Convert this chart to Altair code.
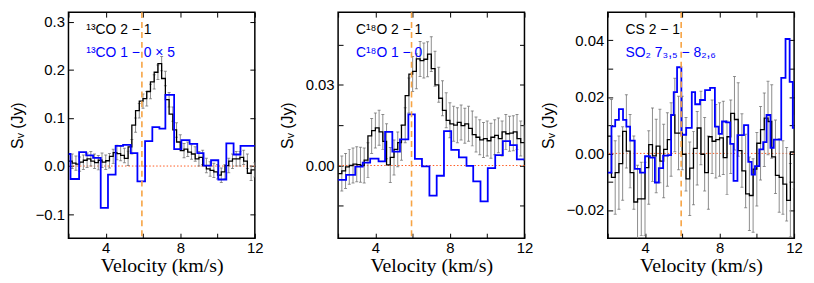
import altair as alt
import pandas as pd

# ---------------- data ----------------
V_MIN, V_MAX = 2.0, 12.0
V_LSR = 5.94          # systemic velocity (dashed orange line)
CHAN = 0.2            # channel width of the black spectra (km/s)
X_TICKS = [2, 4, 6, 8, 10, 12]

# Panel 1: 13CO 2-1 (black) and 13CO 1-0 x 5 (blue)
p1_black = [0.010, 0.006, 0.004, 0.008, 0.012, 0.015, 0.010, 0.007, 0.012, 0.008,
            0.011, 0.020, 0.028, 0.026, 0.022, 0.016, 0.040, 0.085, 0.115, 0.135,
            0.140, 0.155, 0.175, 0.195, 0.213, 0.182, 0.138, 0.108, 0.075, 0.050,
            0.032, 0.035, 0.029, 0.025, 0.015, 0.018, 0.001, -0.006, -0.009, -0.012,
            -0.019, -0.012, 0.001, 0.010, 0.015, 0.015, 0.018, 0.010, -0.015, -0.008]
p1_err = 0.015
p1_blue_edges = [2.00, 2.11, 2.57, 2.95, 3.32, 3.73, 4.12, 4.53, 4.93, 5.34, 5.70, 6.11, 6.50,
                 6.88, 7.20, 7.67, 8.06, 8.50, 8.91, 9.25, 9.65, 10.04, 10.47, 10.86, 11.23]
p1_blue = [0.025, -0.027, 0.029, 0.022, 0.017, -0.087, -0.018, 0.042, 0.044, 0.027, -0.032,
           0.052, 0.081, 0.078, 0.148, 0.035, 0.054, 0.046, 0.027, 0.001, 0.012, -0.028,
           0.047, 0.024, 0.042]
p1_ydom = [-0.15, 0.32]
p1_yticks = [-0.1, 0.0, 0.1, 0.2, 0.3]
p1_ylabeled = [-0.1, 0.0, 0.1, 0.2, 0.3]

# Panel 2: C18O 2-1 (black) and C18O 1-0 (blue)
p2_black = [-0.003, -0.002, -0.0005, 0.0, 0.0005, 0.0003, 0.0, 0.002, 0.011, 0.013,
            0.014, 0.0125, 0.009, 0.0002, 0.003, 0.006, 0.0085, 0.015, 0.026, 0.034,
            0.035, 0.0396, 0.039, 0.0395, 0.0414, 0.036, 0.030, 0.025, 0.0205, 0.0168,
            0.0155, 0.015, 0.016, 0.0148, 0.0155, 0.0138, 0.0115, 0.0105, 0.0095, 0.010,
            0.0092, 0.0105, 0.0112, 0.010, 0.0125, 0.0118, 0.012, 0.0125, 0.010, 0.0085]
p2_err = 0.0065
p2_blue_edges = [2.00, 2.43, 2.92, 3.32, 3.72, 4.17, 4.52, 4.91, 5.32, 5.77, 6.12, 6.50, 6.90,
                 7.29, 7.68, 8.07, 8.48, 8.89, 9.25, 9.64, 10.03, 10.43, 10.84, 11.23, 11.59]
p2_blue = [-0.0053, -0.0035, -0.0004, 0.0011, 0.0026, 0.0015, 0.0125, 0.0052, 0.0097, 0.019,
           0.0025, -0.0003, -0.0112, -0.0038, 0.0128, 0.0058, 0.0030, -0.0001, -0.0059,
           -0.0133, -0.0010, 0.0039, 0.0091, 0.0076, 0.0023]
p2_ydom = [-0.027, 0.057]
p2_yticks = [-0.015, 0.0, 0.015, 0.03, 0.045]
p2_ylabeled = [0.0, 0.03]

# Panel 3: CS 2-1 (black) and SO2 7(3,5)-8(2,6) (blue)
p3_black = [0.0061, -0.0085, -0.0068, -0.0036, 0.0078, 0.0008, -0.0068, -0.0172, -0.0161, -0.0161,
            -0.0050, 0.0031, -0.0009, 0.0026, -0.0027, 0.0014, 0.0049, 0.0136, 0.0072, 0.0072,
            -0.0003, -0.0090, -0.0052, 0.0018, 0.0090, -0.0003, -0.0068, 0.0059, 0.0043, 0.0049,
            0.0055, -0.0015, 0.0059, 0.0142, 0.0120, 0.0010, -0.0062, -0.0143, -0.0149, -0.0056,
            0.0036, 0.0084, 0.0125, 0.0113, -0.0012, -0.0078, -0.0085, -0.0109, -0.0166, 0.0005]
p3_err = 0.013
p3_blue_edges = [2.00, 2.20, 2.40, 2.60, 2.82, 3.00, 3.20, 3.45, 3.73, 4.00, 4.27, 4.53, 4.74,
                 4.97, 5.24, 5.40, 5.54, 5.72, 5.95, 6.21, 6.51, 6.69, 6.95, 7.22, 7.49, 7.75,
                 7.95, 8.13, 8.35, 8.57, 8.75, 8.96, 9.31, 9.54, 9.72, 9.90, 10.13, 10.34,
                 10.52, 10.73, 10.91, 11.31, 11.54, 11.76, 11.93]
p3_blue = [-0.0068, 0.0096, 0.0119, 0.0157, 0.0119, 0.0095, 0.0045, -0.0055, -0.0068, -0.0010,
           -0.0015, -0.0103, -0.0052, -0.0008, -0.0006, 0.0136, 0.0217, 0.0305, 0.0066, 0.0090,
           0.0217, 0.0174, 0.0189, 0.0224, 0.0232, 0.0095, 0.0069, 0.0113, 0.0110, 0.0034,
           -0.0097, 0.0065, 0.0100, -0.0030, -0.0075, -0.0045, 0.0014, 0.0040, 0.0136, 0.0020,
           0.0049, 0.0267, 0.0405, 0.0253, 0.0090]
p3_ydom = [-0.03, 0.05]
p3_yticks = [-0.02, -0.01, 0.0, 0.01, 0.02, 0.03, 0.04]
p3_ylabeled = [-0.02, 0.0, 0.02, 0.04]

labels = [
    ("\u00b9\u00b3CO 2 \u2212 1", "\u00b9\u00b3CO 1 \u2212 0 \u00d7 5"),
    ("C\u00b9\u2078O 2 \u2212 1", "C\u00b9\u2078O 1 \u2212 0"),
    ("CS 2 \u2212 1", "SO\u2082 7\u2083,\u2085 \u2212 8\u2082,\u2086"),
]

# ---------------- styling ----------------
SANS = "Liberation Sans"
SERIF = "Liberation Serif, DejaVu Serif, serif"
W, H = 188, 228
BLACK = "#000000"
BLUE = "#0000ff"
ERR = "#8c8c8c"
ORANGE = "#f7a444"
RED = "#ff5a1f"


def panel(black, err, blue_edges, blue_vals, ydom, yticks, ylabeled, yfmt, lab_black, lab_blue):
    edges = [round(V_MIN + CHAN * i, 4) for i in range(len(black))]
    df_black = pd.DataFrame({"v": edges + [V_MAX], "s": black + [black[-1]]})
    df_blue = pd.DataFrame({"v": blue_edges + [V_MAX], "s": blue_vals + [blue_vals[-1]]})
    right = [round(e + CHAN, 4) for e in edges]
    df_err = pd.DataFrame({"v": right,
                           "lo": [b - err for b in black],
                           "hi": [b + err for b in black]})
    df_caps = pd.DataFrame({"v": right + right,
                            "c": [b - err for b in black] + [b + err for b in black]})

    xs = alt.Scale(domain=[V_MIN, V_MAX], nice=False, zero=False)
    ys = alt.Scale(domain=ydom, nice=False, zero=False)

    cond = " || ".join(f"abs(datum.value - ({t})) < 1e-9" for t in ylabeled)
    y_left = alt.Axis(values=yticks, labelExpr=f"({cond}) ? format(datum.value, '{yfmt}') : ''",
                      title="S\u1d65 (Jy)", orient="left")
    x_bottom = alt.Axis(values=X_TICKS, labelExpr="datum.value % 4 == 0 ? datum.label : ''",
                        format="d", title="Velocity (km/s)", orient="bottom")
    x_top = alt.Axis(values=X_TICKS, labels=False, title=None, orient="top")
    y_right = alt.Axis(values=yticks, labels=False, title=None, orient="right")

    zero = alt.Chart(pd.DataFrame({"z": [0.0]})).mark_rule(
        color=RED, strokeDash=[1.5, 2], strokeWidth=1).encode(
        y=alt.Y("z:Q", scale=ys, axis=None))
    bars = alt.Chart(df_err).mark_rule(color=ERR, strokeWidth=1, clip=True).encode(
        x=alt.X("v:Q", scale=xs, axis=x_top),
        y=alt.Y("lo:Q", scale=ys, axis=y_right),
        y2="hi:Q")
    caps = alt.Chart(df_caps).mark_tick(orient="horizontal", size=3, thickness=1,
                                        color="#666666", clip=True).encode(
        x=alt.X("v:Q", scale=xs, axis=None),
        y=alt.Y("c:Q", scale=ys, axis=None))
    line_black = alt.Chart(df_black).mark_line(
        interpolate="step-after", color=BLACK, strokeWidth=1.3, clip=True).encode(
        x=alt.X("v:Q", scale=xs, axis=x_bottom),
        y=alt.Y("s:Q", scale=ys, axis=y_left))
    line_blue = alt.Chart(df_blue).mark_line(
        interpolate="step-after", color=BLUE, strokeWidth=1.8, clip=True).encode(
        x=alt.X("v:Q", scale=xs, axis=None),
        y=alt.Y("s:Q", scale=ys, axis=None))
    vsys = alt.Chart(pd.DataFrame({"v": [V_LSR]})).mark_rule(
        color=ORANGE, strokeDash=[6, 4], strokeWidth=1.6).encode(
        x=alt.X("v:Q", scale=xs, axis=None))
    t1 = alt.Chart(pd.DataFrame({"t": [lab_black]})).mark_text(
        align="left", baseline="alphabetic", font=SANS, fontSize=14, color=BLACK).encode(
        x=alt.value(18), y=alt.value(22), text="t:N")
    t2 = alt.Chart(pd.DataFrame({"t": [lab_blue]})).mark_text(
        align="left", baseline="alphabetic", font=SANS, fontSize=14, color=BLUE).encode(
        x=alt.value(18), y=alt.value(45), text="t:N")

    return alt.layer(zero, bars, caps, line_black, line_blue, vsys, t1, t2).resolve_axis(
        x="independent", y="independent").properties(width=W, height=H)


p1 = panel(p1_black, p1_err, p1_blue_edges, p1_blue, p1_ydom, p1_yticks, p1_ylabeled, ".1f", *labels[0])
p2 = panel(p2_black, p2_err, p2_blue_edges, p2_blue, p2_ydom, p2_yticks, p2_ylabeled, ".2f", *labels[1])
p3 = panel(p3_black, p3_err, p3_blue_edges, p3_blue, p3_ydom, p3_yticks, p3_ylabeled, ".2f", *labels[2])

chart = alt.hconcat(p1, p2, p3, spacing=84, bounds="flush").properties(
    padding={"left": 0, "top": 1, "right": 2, "bottom": 0}
).configure_view(
    stroke=BLACK, strokeWidth=1.5
).configure_axis(
    offset=-5, tickSize=5, tickColor=BLACK, tickWidth=1, domain=False, grid=False,
    labelFont=SANS, labelFontSize=15, labelColor=BLACK, labelPadding=4,
    labelOverlap=False, labelFlush=False,
    titleFont=SANS, titleFontSize=16, titleFontWeight="normal", titleColor=BLACK,
    titlePadding=10
).configure_axisBottom(
    labelPadding=2, titlePadding=1, titleFont=SERIF, titleFontSize=20
)

chart.save("out.html", embed_options={"renderer": "svg", "actions": False})
